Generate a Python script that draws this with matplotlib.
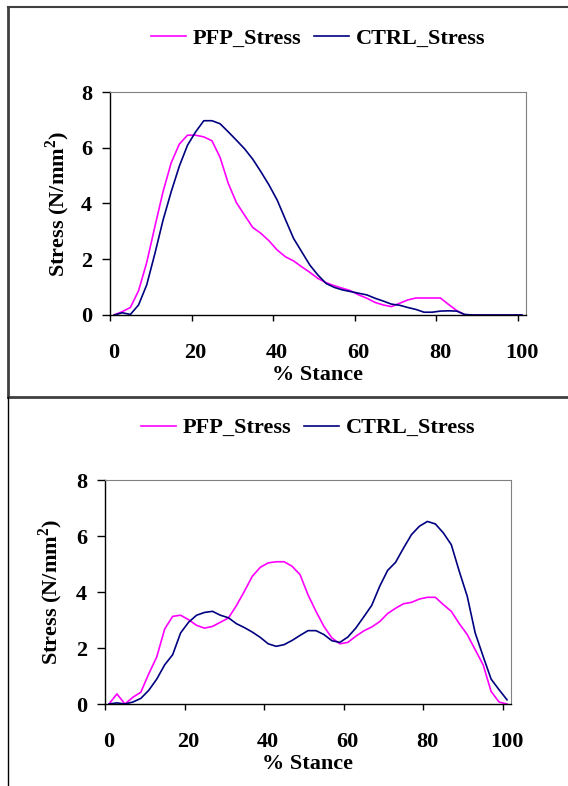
import matplotlib.pyplot as plt
from matplotlib.lines import Line2D

plt.rcParams['font.family'] = ['Liberation Serif', 'DejaVu Serif']
plt.rcParams['font.weight'] = 'bold'
plt.rcParams['mathtext.fontset'] = 'custom'
plt.rcParams['mathtext.rm'] = 'Liberation Serif:bold'
plt.rcParams['mathtext.bf'] = 'Liberation Serif:bold'

# % stance, sampled every 2 %
stance = list(range(0, 101, 2))

# top chart
pfp_top = [0, 0.12, 0.27, 0.87, 1.88, 3.17, 4.42, 5.46, 6.13, 6.45,
           6.45, 6.39, 6.25, 5.65, 4.72, 4.03, 3.58, 3.14, 2.93, 2.66,
           2.33, 2.09, 1.94, 1.73, 1.53, 1.31, 1.16, 1.05, 0.96, 0.87,
           0.72, 0.60, 0.45, 0.36, 0.30, 0.42, 0.54, 0.61, 0.61, 0.61,
           0.61, 0.38, 0.16, 0, 0, 0, 0, 0, 0, 0, 0]
ctrl_top = [0, 0.08, 0.02, 0.36, 1.08, 2.20, 3.40, 4.42, 5.34, 6.09,
            6.57, 6.97, 6.97, 6.86, 6.57, 6.27, 5.96, 5.59, 5.14, 4.66,
            4.12, 3.43, 2.75, 2.27, 1.79, 1.43, 1.13, 0.99, 0.90, 0.84,
            0.78, 0.72, 0.60, 0.50, 0.39, 0.35, 0.27, 0.20, 0.10, 0.10,
            0.14, 0.15, 0.14, 0.02, 0, 0, 0, 0, 0, 0, 0]

# bottom chart
pfp_bot = [0, 0.36, 0, 0.24, 0.42, 1.08, 1.68, 2.68, 3.13, 3.17,
           3.01, 2.81, 2.71, 2.77, 2.92, 3.07, 3.51, 4.02, 4.56, 4.88,
           5.04, 5.08, 5.08, 4.92, 4.62, 3.90, 3.31, 2.77, 2.36, 2.15,
           2.20, 2.42, 2.61, 2.75, 2.94, 3.23, 3.42, 3.58, 3.63, 3.75,
           3.81, 3.81, 3.55, 3.31, 2.87, 2.48, 1.94, 1.40, 0.45, 0.07, 0]
ctrl_bot = [0, 0.04, 0, 0.07, 0.20, 0.49, 0.89, 1.40, 1.76, 2.54,
            2.92, 3.17, 3.27, 3.31, 3.17, 3.08, 2.87, 2.73, 2.57, 2.38,
            2.15, 2.06, 2.12, 2.27, 2.45, 2.62, 2.62, 2.48, 2.26, 2.20,
            2.39, 2.71, 3.11, 3.52, 4.20, 4.77, 5.06, 5.57, 6.05, 6.35,
            6.52, 6.43, 6.11, 5.69, 4.74, 3.85, 2.54, 1.70, 0.89, 0.51, 0.15]

x_labels = [0, 20, 40, 60, 80, 100]
y_ticks = [0, 2, 4, 6, 8]

W, H = 568, 786
fig = plt.figure(figsize=(W / 100, H / 100), dpi=100)


def box(l, t, r, b):
    return [l / W, 1 - b / H, (r - l) / W, (b - t) / H]


def draw_panel(rect, pfp, ctrl, legend_y, ylab_x):
    ax = fig.add_axes(rect)
    ax.plot(stance, pfp, color='#ff00ff', lw=1.2, label='PFP_Stress')
    ax.plot(stance, ctrl, color='#000080', lw=1.2, label='CTRL_Stress')
    ax.set_xlim(-1, 101)
    ax.set_ylim(0, 8)
    ax.set_yticks(y_ticks)
    ax.set_xticks(x_labels)
    # excel style: tick marks sit between categories
    ax.set_xticks([t - 1 for t in x_labels], minor=True)
    ax.tick_params(axis='x', which='major', length=0, pad=20, labelsize=16)
    ax.tick_params(axis='x', which='minor', length=4, width=1, direction='out')
    ax.tick_params(axis='y', length=6, width=1, pad=7, labelsize=16)
    for s in ['top', 'right']:
        ax.spines[s].set_color('#808080')
        ax.spines[s].set_linewidth(0.8)
    for s in ['left', 'bottom']:
        ax.spines[s].set_color('black')
        ax.spines[s].set_linewidth(1.0)
    ax.set_xlabel('% Stance', fontsize=16, fontweight='bold')
    ax.xaxis.set_label_coords(0.5, -0.225)
    ax.set_ylabel(r'Stress (N/mm$^{2}$)', fontsize=16, fontweight='bold')
    ax.yaxis.set_label_coords(ylab_x, 0.5)
    ax.legend(loc='center', bbox_to_anchor=(0.5, legend_y), ncol=2,
              frameon=False, fontsize=16, handlelength=1.6,
              handletextpad=0.3, columnspacing=0.55)
    return ax


draw_panel(box(110, 92, 526, 315), pfp_top, ctrl_top, 1.238, -0.092)
draw_panel(box(105, 480, 511, 704), pfp_bot, ctrl_bot, 1.232, -0.098)

# outer frames around the two panels
def frame_line(xs, ys, color, lw):
    fig.add_artist(Line2D([x / W for x in xs], [1 - y / H for y in ys],
                          color=color, lw=lw))


frame_line([8, 568], [7, 7], '#404040', 1.5)
frame_line([8, 8], [7, 397], '#404040', 2)
frame_line([8, 568], [397, 397], '#404040', 2)
frame_line([8, 8], [397, 786], 'black', 1)

fig.savefig('out.png', dpi=100)
